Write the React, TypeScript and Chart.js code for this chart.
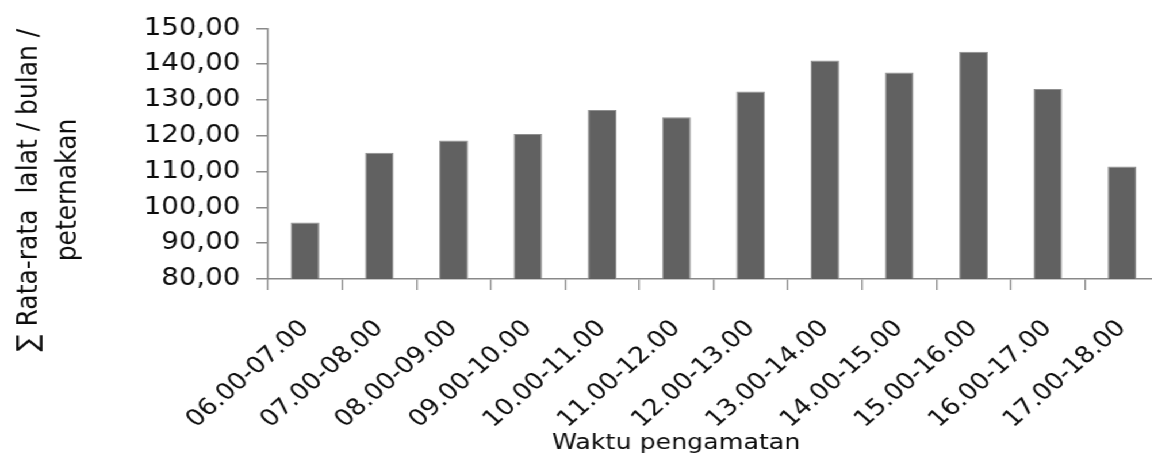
import React, { useEffect, useRef } from "react";
import { Chart, registerables } from "chart.js";

Chart.register(...registerables);

// ---- data ----
const categories = [
  "06.00-07.00",
  "07.00-08.00",
  "08.00-09.00",
  "09.00-10.00",
  "10.00-11.00",
  "11.00-12.00",
  "12.00-13.00",
  "13.00-14.00",
  "14.00-15.00",
  "15.00-16.00",
  "16.00-17.00",
  "17.00-18.00",
];
const values = [95.8, 115.3, 118.7, 120.5, 127.2, 125.2, 132.4, 141.0, 137.7, 143.5, 133.1, 111.4];
const yTicks = [80, 90, 100, 110, 120, 130, 140, 150];
const xTitle = "Waktu pengamatan";
const yTitleLines = ["∑ Rata-rata  lalat / bulan /", "peternakan"];

// ---- style ----
const STRETCH = 1.15;
const FONT = "'DejaVu Sans', Verdana, sans-serif";
const TEXT = "#0d0d0d";
const AXIS = "#898989";
const BAR = "#616161";

const titlePlugin = {
  id: "customTitles",
  afterDraw(chart: any) {
    const { ctx, chartArea } = chart;
    ctx.save();
    ctx.fillStyle = TEXT;
    ctx.textAlign = "center";
    ctx.font = `22px ${FONT}`;
    ctx.textBaseline = "alphabetic";
    ctx.fillText(xTitle, chartArea.left + 355, 449);
    ctx.font = `25px ${FONT}`;
    ctx.textBaseline = "middle";
    yTitleLines.forEach((line, i) => {
      ctx.save();
      ctx.translate(25 + i * 34, 190);
      ctx.rotate(-Math.PI / 2);
      ctx.fillText(line, 0, 0);
      ctx.restore();
    });
    ctx.restore();
  },
};

export default function App() {
  const ref = useRef<HTMLCanvasElement | null>(null);

  useEffect(() => {
    if (!ref.current) return;
    const chart = new Chart(ref.current, {
      type: "bar",
      data: {
        labels: categories,
        datasets: [
          {
            data: values,
            backgroundColor: BAR,
            borderColor: "#8f8f8f",
            borderWidth: 1,
            categoryPercentage: 1,
            barPercentage: 0.385,
          },
        ],
      },
      options: {
        animation: false,
        responsive: true,
        maintainAspectRatio: false,
        layout: { padding: { top: 25, right: 2, bottom: 0, left: 0 } },
        plugins: {
          legend: { display: false },
          tooltip: { enabled: false },
        },
        scales: {
          x: {
            offset: true,
            afterFit: (s: any) => {
              s.height = 179;
              s.paddingLeft = 0;
              s.paddingRight = 0;
            },
            grid: {
              offset: true,
              drawOnChartArea: false,
              drawTicks: true,
              tickLength: 11,
              color: AXIS,
              lineWidth: 1.3,
            },
            border: { display: true, color: AXIS, width: 1.6 },
            ticks: {
              autoSkip: false,
              maxRotation: 45,
              minRotation: 45,
              padding: 25,
              color: TEXT,
              font: { family: FONT, size: 23 },
            },
          },
          y: {
            min: 80,
            max: 150,
            afterFit: (s: any) => {
              s.width = 233;
            },
            afterBuildTicks: (s: any) => {
              s.ticks = yTicks.map((v) => ({ value: v }));
            },
            grid: {
              drawOnChartArea: false,
              drawTicks: true,
              tickLength: 10,
              color: AXIS,
              lineWidth: 1.5,
            },
            border: { display: true, color: AXIS, width: 1.5 },
            ticks: {
              padding: 14,
              color: TEXT,
              font: { family: FONT, size: 24 },
              callback: (v: any) => Number(v).toFixed(2).replace(".", ","),
            },
          },
        },
      },
      plugins: [titlePlugin],
    });
    return () => chart.destroy();
  }, []);

  return (
    <div
      style={{
        position: "fixed",
        left: 0,
        top: 0,
        width: 1010,
        height: 458,
        transform: `scaleX(${STRETCH})`,
        transformOrigin: "0 0",
        background: "#fff",
      }}
    >
      <canvas ref={ref} />
    </div>
  );
}
